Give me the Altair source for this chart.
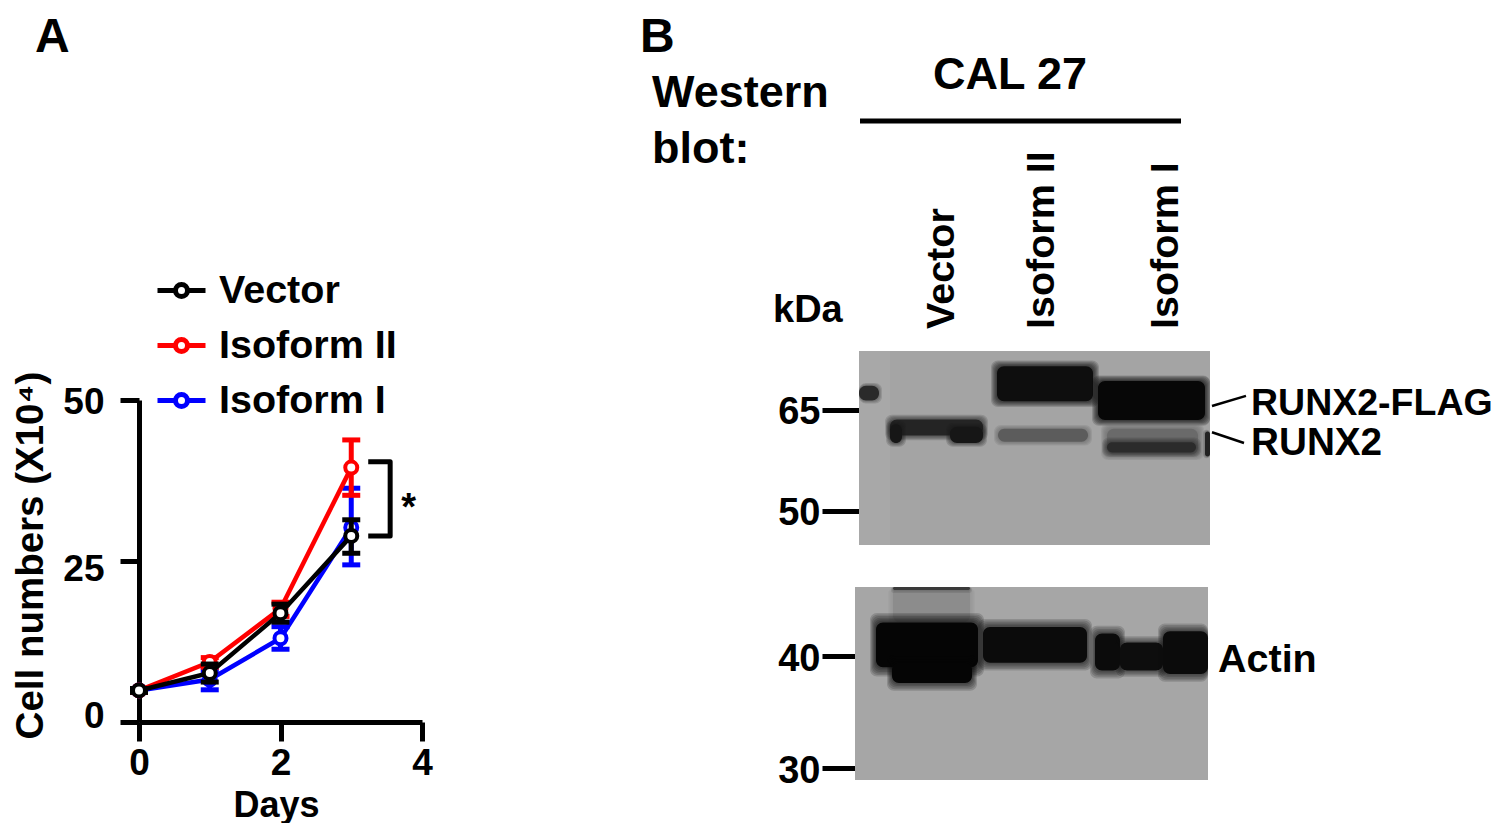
import altair as alt
import pandas as pd

FONT = "Liberation Sans"

# ---- Panel A values
series_names = ["Vector", "Isoform II", "Isoform I"]
series_colors = ["#000000", "#ff0000", "#0000ff"]
days = [0, 1, 2, 3]
vector_mean = [4.9, 7.6, 16.9, 28.9]
vector_low = [4.6, 6.2, 15.5, 26.2]
vector_high = [5.2, 9.0, 18.3, 31.4]
iso2_mean = [4.9, 9.3, 17.6, 39.5]
iso2_low = [4.6, 8.5, 16.4, 35.2]
iso2_high = [5.2, 10.0, 18.6, 43.8]
iso1_mean = [4.9, 6.6, 13.0, 30.2]
iso1_low = [4.6, 5.0, 11.3, 24.4]
iso1_high = [5.2, 8.0, 14.8, 36.3]
bracket_days = [3.24, 3.55, 3.55, 3.24]
bracket_cells = [40.4, 40.4, 28.9, 28.9]

# ---- Panel B values: gel position along the lanes, kDa limits, grey level
lane_names = ["Vector", "Isoform II", "Isoform I"]
lane_centres = [83, 183, 307]

top_bg_x0 = [0, 0]
top_bg_x1 = [351, 31]
top_bg_hi = [73.76, 73.76]
top_bg_lo = [44.95, 44.95]
top_bg_grey = ["#a4a4a4", "#a8a8a8"]

top_gel_x0 = [31, 31, 91, 138, 139, 239, 248, 248, 346, 0]
top_gel_x1 = [124, 43, 124, 234, 229, 346, 339, 337, 351, 20]
top_kda_hi = [63.6, 62.9, 62.5, 71.5, 62.2, 69.3, 62.2, 60.2, 61.8, 68.6]
top_kda_lo = [61.2, 60.1, 60.1, 66.3, 60.3, 63.5, 58.4, 58.7, 58.1, 66.4]
top_grey = ["#242424", "#161616", "#161616", "#0e0e0e",
            "#5c5c5c", "#070707", "#6a6a6a", "#2b2b2b", "#222222", "#2a2a2a"]
top_soft = [5, 4, 4, 6, 4, 6, 6, 5, 2, 3]

bot_bg_x0 = [0]
bot_bg_x1 = [353]
bot_bg_hi = [46.16]
bot_bg_lo = [28.93]
bot_bg_grey = ["#a6a6a6"]

bot_gel_x0 = [38, 38, 21, 37, 128, 240, 265, 308]
bot_gel_x1 = [115, 115, 123, 117, 232, 265, 308, 353]
bot_kda_hi = [46.16, 46.16, 43.0, 39.4, 42.6, 42.0, 41.2, 42.2]
bot_kda_lo = [43.0, 45.9, 39.0, 37.6, 39.4, 38.7, 38.7, 38.4]
bot_grey = ["#8c8c8c", "#3a3a3a", "#050505", "#050505", "#0b0b0b",
            "#0b0b0b", "#0d0d0d", "#0b0b0b"]
bot_soft = [5, 2, 6, 5, 5, 5, 4, 5]

leader_x0 = [353, 353]
leader_x1 = [387, 385]
leader_y0 = [65.6, 61.7]
leader_y1 = [67.1, 60.1]

# ---- Free text: string, left/centre x, y, size, align
texts = [
    ("A", 35, 52, 48, "left"),
    ("B", 640, 52, 48, "left"),
    ("Western", 652, 107, 45, "left"),
    ("blot:", 652, 163, 45, "left"),
    ("CAL 27", 1010, 89, 45, "center"),
    ("kDa", 773, 322, 38, "left"),
    ("RUNX2-FLAG", 1251, 415, 37.5, "left"),
    ("RUNX2", 1251, 455, 38.7, "left"),
    ("Actin", 1218, 672, 39.5, "left"),
]

# ---- Scales
col_scale = alt.Scale(domain=series_names, range=series_colors)
x_days = alt.Scale(domain=[0, 4], range=[131, 414], nice=False, zero=False)
y_cells = alt.Scale(domain=[0, 50], range=[714, 392], nice=False, zero=False)
x_top = alt.Scale(domain=[0, 351], range=[851, 1202], nice=False, zero=False)
y_top = alt.Scale(domain=[73.76, 44.95], range=[343, 537], nice=False, zero=False)
x_bot = alt.Scale(domain=[0, 353], range=[847, 1200], nice=False, zero=False)
y_bot = alt.Scale(domain=[46.16, 28.93], range=[579, 772], nice=False, zero=False)

W, H = 1484, 815
layers = []

# ---- Panel A
frames = {
    "Vector": (vector_mean, vector_low, vector_high),
    "Isoform II": (iso2_mean, iso2_low, iso2_high),
    "Isoform I": (iso1_mean, iso1_low, iso1_high),
}
axis_x = alt.Axis(
    values=[0, 2, 4], title="Days", orient="bottom", offset=-(H - 714),
    grid=False, domainWidth=5, domainColor="#000", tickColor="#000", tickWidth=5,
    tickSize=19, labelFontSize=37, labelFont=FONT, labelFontWeight="bold",
    labelColor="#000", labelPadding=4, labelAngle=0, labelFlush=False,
    titleFont=FONT, titleFontSize=36, titleFontWeight="bold", titleColor="#000",
    titleX=268, titleY=66,
)
axis_y = alt.Axis(
    values=[0, 25, 50], title="Cell numbers (X10⁴)", orient="left", offset=-131,
    grid=False, domainWidth=5, domainColor="#000", tickColor="#000", tickWidth=5,
    tickSize=19, labelFontSize=37, labelFont=FONT, labelFontWeight="bold",
    labelColor="#000", labelPadding=16, labelFlush=False,
    labelOffset={"condition": [{"test": "datum.value === 25", "value": 8},
                               {"test": "datum.value === 0", "value": -6}], "value": 2},
    titleFont=FONT, titleFontSize=38.5, titleFontWeight="bold", titleColor="#000",
    titleX=-89, titleY=547,
)
first = True
for name in ["Isoform I", "Isoform II", "Vector"]:
    m, lo, hi = frames[name]
    df = pd.DataFrame({"day": days, "mean": m, "low": lo, "high": hi, "series": name})
    hue = series_colors[series_names.index(name)]
    x = alt.X("day:Q", scale=x_days, axis=axis_x if first else None)
    y = alt.Y("mean:Q", scale=y_cells, axis=axis_y if first else None)
    legend = None
    if first:
        legend = alt.Legend(
            title=None, orient="none", legendX=147, legendY=256,
            symbolType="M-1,0H-0.25M0.25,0H1M-0.25,0A0.25,0.25,0,1,0,0.25,0A0.25,0.25,0,1,0,-0.25,0",
            symbolSize=2304, symbolStrokeWidth=5, symbolFillColor="#ffffff",
            labelFont=FONT, labelFontSize=39.5, labelFontWeight="bold", labelColor="#000",
            labelOffset=11, rowPadding=9, labelLimit=300,
        )
    line = alt.Chart(df).mark_line(strokeWidth=4.5, clip=False).encode(
        x=x, y=y, color=alt.Color("series:N", scale=col_scale, legend=legend)
    )
    xn = alt.X("day:Q", scale=x_days, axis=None)
    err = alt.Chart(df).mark_rule(strokeWidth=5, color=hue).encode(
        x=xn, y=alt.Y("low:Q", scale=y_cells, axis=None), y2="high:Q"
    )
    cap_lo = alt.Chart(df).mark_tick(orient="horizontal", size=18, thickness=5, color=hue, opacity=1).encode(
        x=xn, y=alt.Y("low:Q", scale=y_cells, axis=None)
    )
    cap_hi = alt.Chart(df).mark_tick(orient="horizontal", size=18, thickness=5, color=hue, opacity=1).encode(
        x=xn, y=alt.Y("high:Q", scale=y_cells, axis=None)
    )
    pts = alt.Chart(df).mark_point(
        shape="circle", size=144, filled=True, fill="#ffffff", stroke=hue, strokeWidth=4, opacity=1
    ).encode(x=xn, y=alt.Y("mean:Q", scale=y_cells, axis=None))
    layers += [line, err, cap_lo, cap_hi, pts]
    first = False

bracket = pd.DataFrame({"day": bracket_days, "cells": bracket_cells, "o": [0, 1, 2, 3]})
layers.append(
    alt.Chart(bracket).mark_line(strokeWidth=5, color="#000", strokeJoin="round").encode(
        x=alt.X("day:Q", scale=x_days, axis=None),
        y=alt.Y("cells:Q", scale=y_cells, axis=None),
        order="o:Q",
    )
)
layers.append(
    alt.Chart(pd.DataFrame({"day": [3.81], "cells": [33.0], "t": ["*"]}))
    .mark_text(font=FONT, fontSize=38, fontWeight="bold", color="#000")
    .encode(
        x=alt.X("day:Q", scale=x_days, axis=None),
        y=alt.Y("cells:Q", scale=y_cells, axis=None),
        text="t:N",
    )
)


# ---- Panel B
def blot_axis(vals, offset):
    return alt.Axis(
        values=vals, title=None, orient="left", offset=offset, domain=False, grid=False,
        tickColor="#000", tickWidth=5, tickSize=37, labelFont=FONT, labelFontSize=38,
        labelFontWeight="bold", labelColor="#000", labelPadding=2, labelOffset=3,
    )


def gel_layer(x0, x1, hi, lo, grey, sx, sy, axis):
    df = pd.DataFrame({"a": x0, "b": x1, "h": hi, "l": lo, "c": grey})
    return alt.Chart(df).mark_rect().encode(
        x=alt.X("a:Q", scale=sx, axis=None),
        x2="b:Q",
        y=alt.Y("h:Q", scale=sy, axis=axis),
        y2="l:Q",
        color=alt.Color("c:N", scale=None),
    )


def band_layer(x0, x1, hi, lo, grey, soft, sx, sy, gel_w, gel_hi):
    rows = []
    for i in range(len(x0)):
        # soft edge of a band: wider, paler rounded rectangles under the core
        for k in range(soft[i], 0, -1):
            pad = float(k)
            kpad = pad * 0.14
            rows.append(dict(a=max(x0[i] - pad, 0), b=min(x1[i] + pad, gel_w),
                             h=min(hi[i] + kpad, gel_hi), l=lo[i] - kpad,
                             c=grey[i], o=0.16))
        rows.append(dict(a=x0[i], b=x1[i], h=hi[i], l=lo[i], c=grey[i], o=1.0))
    df = pd.DataFrame(rows)
    return alt.Chart(df).mark_rect(cornerRadius=7, clip=False).encode(
        x=alt.X("a:Q", scale=sx, axis=None),
        x2="b:Q",
        y=alt.Y("h:Q", scale=sy, axis=None),
        y2="l:Q",
        color=alt.Color("c:N", scale=None),
        opacity=alt.Opacity("o:Q", scale=None),
    )


layers.append(gel_layer(top_bg_x0, top_bg_x1, top_bg_hi, top_bg_lo, top_bg_grey,
                        x_top, y_top, blot_axis([65, 50], -851)))
layers.append(band_layer(top_gel_x0, top_gel_x1, top_kda_hi, top_kda_lo, top_grey, top_soft,
                         x_top, y_top, 351, 73.76))
layers.append(gel_layer(bot_bg_x0, bot_bg_x1, bot_bg_hi, bot_bg_lo, bot_bg_grey,
                        x_bot, y_bot, blot_axis([40, 30], -851)))
layers.append(band_layer(bot_gel_x0, bot_gel_x1, bot_kda_hi, bot_kda_lo, bot_grey, bot_soft,
                         x_bot, y_bot, 353, 46.16))

leaders = pd.DataFrame({"a": leader_x0, "b": leader_x1, "h": leader_y0, "l": leader_y1})
layers.append(
    alt.Chart(leaders).mark_rule(strokeWidth=2.5, color="#000").encode(
        x=alt.X("a:Q", scale=x_top, axis=None), x2="b:Q",
        y=alt.Y("h:Q", scale=y_top, axis=None), y2="l:Q",
    )
)

# header line above the lanes
layers.append(
    alt.Chart(pd.DataFrame({"a": [0]})).mark_rule(strokeWidth=5, color="#000").encode(
        x=alt.value(852), x2=alt.value(1173), y=alt.value(113)
    )
)

# lane labels
layers.append(
    alt.Chart(pd.DataFrame({"pos": lane_centres, "name": lane_names}))
    .mark_text(font=FONT, fontSize=39.5, fontWeight="bold", color="#000", angle=270,
               align="left", baseline="middle")
    .encode(x=alt.X("pos:Q", scale=x_top, axis=None), y=alt.value(321), text="name:N")
)

# free text
for s, px, py, size, al in texts:
    layers.append(
        alt.Chart(pd.DataFrame({"t": [s]}))
        .mark_text(font=FONT, fontSize=size, fontWeight="bold", color="#000", align=al,
                   baseline="alphabetic")
        .encode(x=alt.value(px - 8), y=alt.value(py - 8), text="t:N")
    )

chart = (
    alt.layer(*layers)
    .resolve_scale(x="independent", y="independent", color="independent", opacity="independent")
    .resolve_axis(x="independent", y="independent")
    .properties(width=W, height=H, padding=0, autosize=alt.AutoSizeParams(type="none"),
                background="#ffffff")
    .configure_view(stroke=None)
)
chart.save("out.html", embed_options={"renderer": "svg", "actions": False})
